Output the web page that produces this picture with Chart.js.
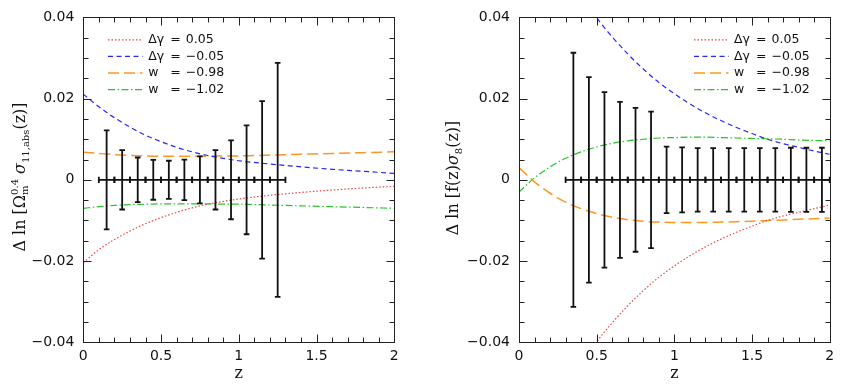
<!DOCTYPE html>
<html><head><meta charset="utf-8">
<script src="https://cdn.jsdelivr.net/npm/chart.js@4.4.1/dist/chart.umd.min.js"></script>
<style>
html,body{margin:0;padding:0;background:#fff;width:846px;height:389px;overflow:hidden}
#a{position:absolute;left:0;top:0;width:420px;height:389px}
#b{position:absolute;left:420px;top:0;width:426px;height:389px}
</style></head><body>
<div id="a"><canvas id="c1"></canvas></div>
<div id="b"><canvas id="c2"></canvas></div>
<script>
// ---------- data ----------
const seriesLabels = ['Δγ = 0.05', 'Δγ = −0.05', 'w = −0.98', 'w = −1.02'];

// left panel: Δ ln [Ω_m^0.4 σ_11,abs(z)]
const zLeft       = [0, 0.1, 0.2, 0.3, 0.4, 0.5, 0.6, 0.7, 0.8, 0.9, 1.0, 1.2, 1.4, 1.6, 1.8, 2.0];
const leftRed     = [-0.0204, -0.0172, -0.0147, -0.0126, -0.0108, -0.0093, -0.0080, -0.0069, -0.0060, -0.0053, -0.0047, -0.0038, -0.0031, -0.0025, -0.0020, -0.0016];
const leftBlue    = [0.0211, 0.0180, 0.0153, 0.0130, 0.0110, 0.0094, 0.0080, 0.0069, 0.0060, 0.0053, 0.0047, 0.0039, 0.0032, 0.0026, 0.0021, 0.0016];
const leftOrange  = [0.0068, 0.0065, 0.0062, 0.0060, 0.0059, 0.0058, 0.0058, 0.0058, 0.0058, 0.0059, 0.0059, 0.0061, 0.0063, 0.0065, 0.0067, 0.0069];
const leftGreen   = [-0.0070, -0.0066, -0.0063, -0.0061, -0.0060, -0.0059, -0.0059, -0.0059, -0.0059, -0.0060, -0.0060, -0.0062, -0.0064, -0.0066, -0.0068, -0.0070];
const errZLeft    = [0.15, 0.25, 0.35, 0.45, 0.55, 0.65, 0.75, 0.85, 0.95, 1.05, 1.15, 1.25];
const errLeft     = [0.0122, 0.0073, 0.0055, 0.0049, 0.0047, 0.0050, 0.0058, 0.0073, 0.0097, 0.0134, 0.0194, 0.0288];

// right panel: Δ ln [f(z)σ_8(z)]
const zRight      = [0, 0.1, 0.2, 0.3, 0.4, 0.5, 0.6, 0.7, 0.8, 0.9, 1.0, 1.1, 1.2, 1.3, 1.4, 1.5, 1.6, 1.7, 1.8, 1.9, 2.0];
const rightOrange = [0.0030, -0.0005, -0.0033, -0.0055, -0.0071, -0.0083, -0.0092, -0.0098, -0.0102, -0.0104, -0.0105, -0.0105, -0.0105, -0.0104, -0.0103, -0.0102, -0.0100, -0.0099, -0.0097, -0.0096, -0.0094];
const rightGreen  = [-0.0030, 0.0005, 0.0032, 0.0053, 0.0069, 0.0081, 0.0090, 0.0096, 0.0100, 0.0103, 0.0104, 0.0105, 0.0105, 0.0104, 0.0103, 0.0102, 0.0101, 0.0100, 0.0098, 0.0097, 0.0096];
const zRightGam   = [0.45, 0.5, 0.6, 0.7, 0.8, 0.9, 1.0, 1.1, 1.2, 1.3, 1.4, 1.5, 1.6, 1.7, 1.8, 1.9, 2.0];
const rightBlue   = [0.0435, 0.0400, 0.0352, 0.0310, 0.0273, 0.0240, 0.0212, 0.0187, 0.0165, 0.0146, 0.0129, 0.0114, 0.0100, 0.0089, 0.0080, 0.0071, 0.0063];
const rightRed    = [-0.0435, -0.0400, -0.0352, -0.0310, -0.0273, -0.0240, -0.0212, -0.0187, -0.0165, -0.0146, -0.0129, -0.0114, -0.0100, -0.0089, -0.0080, -0.0071, -0.0062];
const errZRight   = [0.35, 0.45, 0.55, 0.65, 0.75, 0.85, 0.95, 1.05, 1.15, 1.25, 1.35, 1.45, 1.55, 1.65, 1.75, 1.85, 1.95];
const errRight    = [0.0313, 0.0253, 0.0216, 0.0192, 0.0177, 0.0168, 0.0082, 0.0080, 0.0078, 0.0078, 0.0078, 0.0078, 0.0078, 0.0078, 0.0079, 0.0079, 0.0079];
const errHalfWidthZ = 0.05;

// ---------- helpers ----------
const styles = [
  {color:'rgb(232,70,70)',  dash:[1.5,2],        width:1.2},
  {color:'rgb(40,40,240)',  dash:[5,3.5],        width:1.2},
  {color:'rgb(255,150,30)', dash:[11,5],         width:1.5},
  {color:'rgb(40,195,40)',  dash:[7,2.5,1.5,2.5],width:1.2}
];
function pts(zs, vs){ return zs.map((z,i)=>({x:z, y:vs[i]})); }
function fmtY(v){
  const r = Math.round(v/0.02);
  if (Math.abs(v - r*0.02) > 1e-9) return '';
  if (r === 0) return '0';
  return (v < 0 ? '\u2212' : '') + Math.abs(v).toFixed(2);
}
function fmtX(v){
  const r = Math.round(v*2);
  if (Math.abs(v*2 - r) > 1e-6) return '';
  return String(r/2);
}
function isMult(v, s){ const r = Math.round(v/s); return Math.abs(v - r*s) < s*1e-4; }
const snap = v => Math.round(v) + 0.5;

const framePlugin = {
  id: 'frame',
  afterDatasetsDraw(chart){
    const {ctx, chartArea:a, scales:{x, y}} = chart;
    const o = chart.options.plugins.frame;
    ctx.save();
    // error bars
    ctx.strokeStyle = '#111'; ctx.lineWidth = 1.8; ctx.lineCap = 'butt';
    const y0 = y.getPixelForValue(0);
    o.ez.forEach((z, i) => {
      const px = x.getPixelForValue(z);
      const yt = y.getPixelForValue(o.ee[i]), yb = y.getPixelForValue(-o.ee[i]);
      const xl = x.getPixelForValue(z - o.hw), xr = x.getPixelForValue(z + o.hw);
      ctx.beginPath();
      ctx.moveTo(px, yt); ctx.lineTo(px, yb);
      ctx.moveTo(px-2.8, yt); ctx.lineTo(px+2.8, yt);
      ctx.moveTo(px-2.8, yb); ctx.lineTo(px+2.8, yb);
      ctx.moveTo(xl, y0); ctx.lineTo(xr, y0);
      ctx.moveTo(xl, y0-3.2); ctx.lineTo(xl, y0+3.2);
      ctx.moveTo(xr, y0-3.2); ctx.lineTo(xr, y0+3.2);
      ctx.stroke();
    });
    // frame box and inward ticks
    const L = snap(a.left), R = snap(a.right), T = snap(a.top), B = snap(a.bottom);
    ctx.strokeStyle = '#222'; ctx.lineWidth = 1;
    ctx.strokeRect(L, T, R - L, B - T);
    ctx.beginPath();
    x.ticks.forEach(t => {
      const px = snap(x.getPixelForValue(t.value));
      const len = isMult(t.value, 0.5) ? 8 : 5;
      ctx.moveTo(px, B); ctx.lineTo(px, B - len);
      ctx.moveTo(px, T); ctx.lineTo(px, T + len);
    });
    y.ticks.forEach(t => {
      const py = snap(y.getPixelForValue(t.value));
      const len = isMult(t.value, 0.02) ? 8 : 5;
      ctx.moveTo(L, py); ctx.lineTo(L + len, py);
      ctx.moveTo(R, py); ctx.lineTo(R - len, py);
    });
    ctx.stroke();
    // legend
    ctx.textBaseline = 'middle'; ctx.textAlign = 'left';
    ctx.font = '12.5px "DejaVu Sans"'; ctx.fillStyle = '#111';
    chart.data.datasets.forEach((ds, i) => {
      const yy = a.top + 22.4 + i*16.6;
      const lx = a.left + o.legX;
      ctx.save();
      ctx.strokeStyle = ds.borderColor; ctx.lineWidth = ds.borderWidth; ctx.setLineDash(ds.borderDash);
      ctx.beginPath(); ctx.moveTo(lx, yy); ctx.lineTo(lx + 34.5, yy); ctx.stroke();
      ctx.restore();
      const parts = ds.label.split(' = ');
      const tx = a.left + o.legT;
      ctx.fillText(parts[0], tx, yy);
      ctx.fillText('=', tx + 22, yy);
      ctx.fillText(parts[1], tx + 37.5, yy);
    });
    // rotated y-axis title with sub/superscripts
    ctx.fillStyle = '#111';
    ctx.textBaseline = 'alphabetic';
    let total = 0;
    o.title.forEach(p => {
      if (p.stack) {
        p.w = Math.max(...p.stack.map(s => { ctx.font = s.f; return ctx.measureText(s.t).width; }));
      } else { ctx.font = p.f; p.w = ctx.measureText(p.t).width; }
      total += p.w;
    });
    ctx.translate(o.tx, o.ty); ctx.rotate(-Math.PI/2);
    let cx = -total/2;
    o.title.forEach(p => {
      if (p.stack) {
        p.stack.forEach(s => { ctx.font = s.f; ctx.fillText(s.t, cx, 5.5 + s.dy); });
      } else { ctx.font = p.f; ctx.fillText(p.t, cx, 5.5 + (p.dy || 0)); }
      cx += p.w;
    });
    ctx.restore();
  }
};

const F = '16px "DejaVu Serif"', FI = 'italic 16px "DejaVu Serif"', FS = '10px "DejaVu Serif"';

function panel(id, o){
  const mk = (zs, vs, i) => ({
    label: seriesLabels[i], data: pts(zs, vs),
    borderColor: styles[i].color, borderDash: styles[i].dash, borderWidth: styles[i].width,
    pointRadius: 0, fill: false, cubicInterpolationMode: 'monotone'
  });
  return new Chart(document.getElementById(id), {
    type: 'line',
    data: { datasets: [mk(o.zg, o.red, 0), mk(o.zg, o.blue, 1), mk(o.zs, o.orange, 2), mk(o.zs, o.green, 3)] },
    options: {
      responsive: true, maintainAspectRatio: false, animation: false,
      layout: { padding: { top: 13.3, right: o.padR, left: 0, bottom: 0 } },
      plugins: {
        legend: { display: false }, tooltip: { enabled: false },
        frame: { ez: o.ez, ee: o.ee, hw: errHalfWidthZ, legX: o.legX, legT: o.legT, title: o.title, tx: o.tx, ty: o.ty }
      },
      scales: {
        x: {
          type: 'linear', min: 0, max: 2,
          grid: { display: false, drawTicks: false }, border: { display: false },
          ticks: { stepSize: 0.1, autoSkip: false, maxRotation: 0, padding: 6,
                   font: { family: 'DejaVu Sans', size: 14 }, color: '#111', callback: fmtX },
          title: { display: true, text: 'z', font: { family: 'DejaVu Serif', size: 16 }, color: '#111',
                   padding: { top: 0, bottom: 6 } },
          afterFit: s => { s.height = 46.7; }
        },
        y: {
          type: 'linear', min: -0.04, max: 0.04,
          grid: { display: false, drawTicks: false }, border: { display: false },
          ticks: { stepSize: 0.005, autoSkip: false, padding: 9,
                   font: { family: 'DejaVu Sans', size: 14 }, color: '#111', callback: fmtY },
          afterFit: s => { s.width = o.yW; }
        }
      }
    },
    plugins: [framePlugin]
  });
}

panel('c1', {
  zg: zLeft, red: leftRed, blue: leftBlue, zs: zLeft, orange: leftOrange, green: leftGreen,
  ez: errZLeft, ee: errLeft, yW: 83.3, padR: 25.7, legX: 24.7, legT: 65,
  tx: 19, ty: 177,
  title: [
    {t:'Δ ln [', f:F}, {t:'Ω', f:F},
    {stack:[{t:'0.4', f:FS, dy:-7}, {t:'m', f:FS, dy:3}]},
    {t:' ', f:F}, {t:'σ', f:FI}, {t:'11,abs', f:FS, dy:4}, {t:'(z)]', f:F}
  ]
});
panel('c2', {
  zg: zRightGam, red: rightRed, blue: rightBlue, zs: zRight, orange: rightOrange, green: rightGreen,
  ez: errZRight, ee: errRight, yW: 99, padR: 16.3, legX: 175, legT: 215,
  tx: 32, ty: 178,
  title: [
    {t:'Δ ln [f(z)', f:F}, {t:'σ', f:FI}, {t:'8', f:FS, dy:4}, {t:'(z)]', f:F}
  ]
});
</script>
</body></html>
